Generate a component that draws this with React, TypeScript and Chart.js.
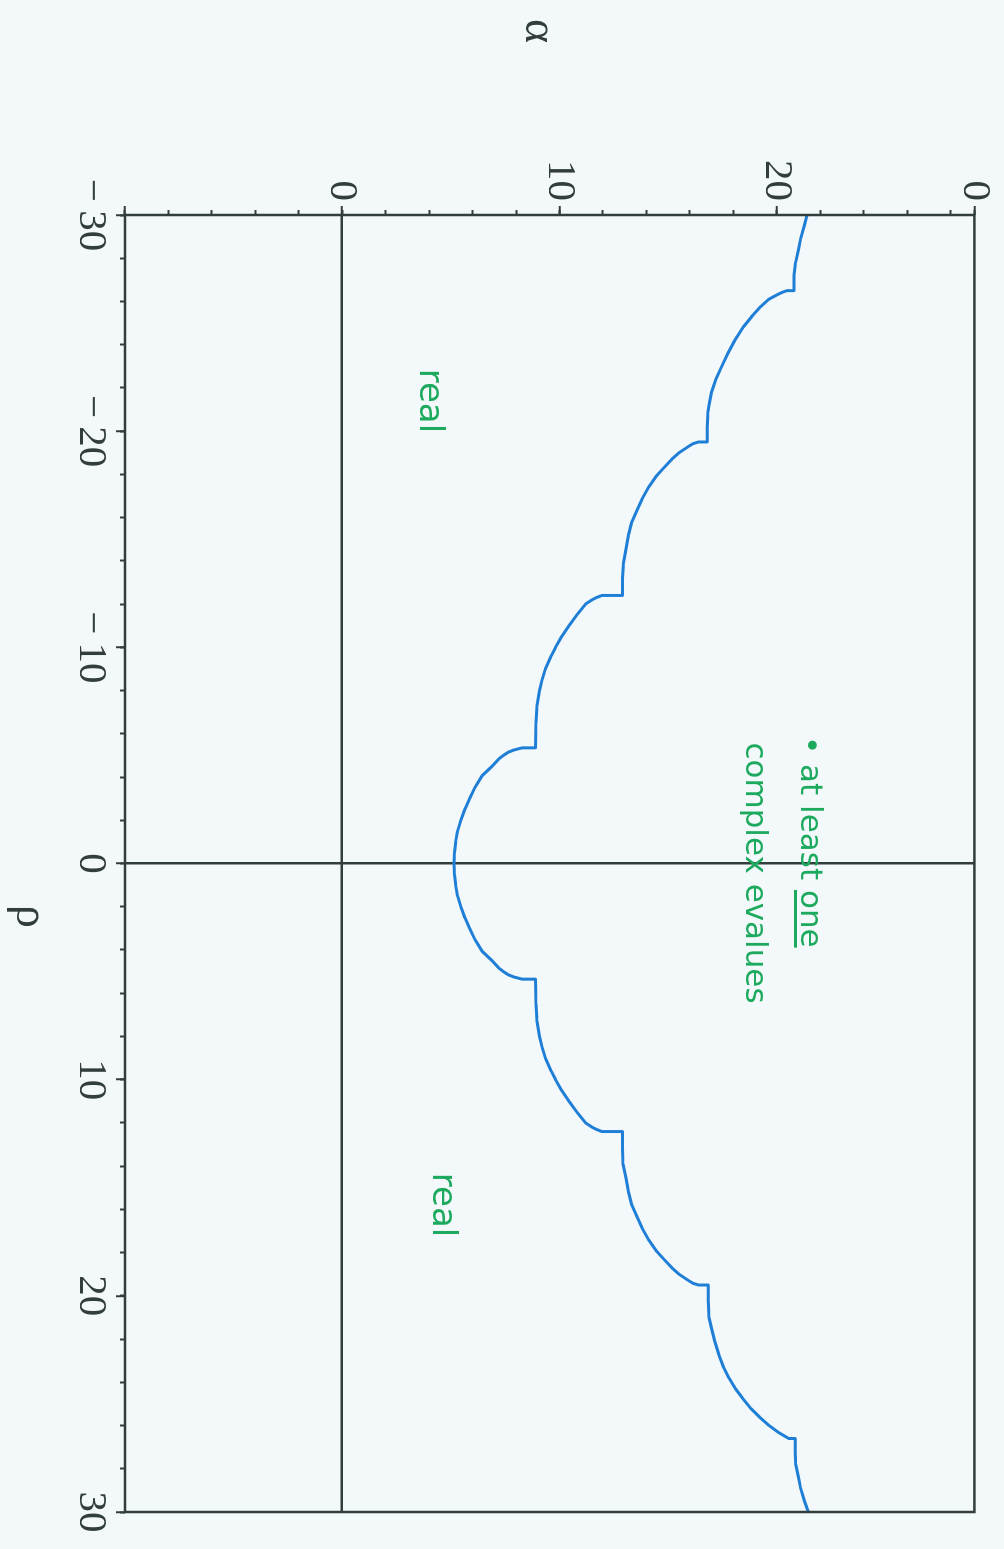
import React, { useEffect, useRef } from "react";
import { Chart, registerables } from "chart.js";

Chart.register(...registerables);

// ---- data ----
const rhoRange = [-30, 30];
const alphaRange = [-10, 29.1];
const rhoMajorTicks = [-30, -20, -10, 0, 10, 20, 30];
const rhoTickLabels = ["\u2212\u200930", "\u2212\u200920", "\u2212\u200910", "0", "10", "20", "30"];
const alphaMajorTicks = [-10, 0, 10, 20, 29.1];
const alphaTickLabels = ["", "0", "10", "20", "0"];

// boundary curve: [rho, alpha]
const boundary: [number, number][] = [
  [-30.0, 21.4], [-29.5, 21.27], [-28.9, 21.1], [-28.4, 21.0], [-27.8, 20.87], [-27.2, 20.8], [-26.5, 20.8],
  [-26.5, 20.46], [-26.4, 20.2], [-26.3, 20.0], [-26.1, 19.63], [-25.7, 19.2], [-25.3, 18.85], [-24.8, 18.45], [-24.25, 18.1],
  [-23.6, 17.75], [-23.0, 17.47], [-22.4, 17.2], [-21.8, 17.0], [-21.2, 16.88], [-20.9, 16.84], [-20.2, 16.8], [-19.5, 16.8],
  [-19.5, 16.4], [-19.42, 16.15], [-19.3, 15.95], [-19.0, 15.5], [-18.7, 15.17], [-18.3, 14.8], [-17.9, 14.44], [-17.4, 14.1],
  [-16.86, 13.8], [-16.3, 13.55], [-15.8, 13.33], [-15.2, 13.18], [-14.55, 13.06], [-13.9, 12.95], [-13.2, 12.9], [-12.4, 12.9],
  [-12.4, 11.95], [-12.3, 11.7], [-12.2, 11.5], [-12.0, 11.2], [-11.5, 10.8], [-11.0, 10.44], [-10.5, 10.1], [-10.0, 9.82],
  [-9.6, 9.62], [-9.0, 9.35], [-8.5, 9.2], [-8.0, 9.08], [-7.3, 8.97], [-6.5, 8.92], [-5.35, 8.9],
  [-5.35, 8.28], [-5.25, 7.9], [-5.15, 7.65], [-5.0, 7.42], [-4.85, 7.22], [-4.5, 6.9], [-4.06, 6.44], [-3.5, 6.1],
  [-3.0, 5.86], [-2.5, 5.64], [-2.0, 5.46], [-1.5, 5.31], [-1.0, 5.22], [-0.5, 5.17], [0, 5.15],
  [0.5, 5.17], [1.0, 5.22], [1.5, 5.31], [2.0, 5.46], [2.5, 5.64], [3.0, 5.86], [3.5, 6.1], [4.06, 6.44],
  [4.5, 6.9], [4.85, 7.22], [5.0, 7.42], [5.15, 7.65], [5.25, 7.9], [5.35, 8.28],
  [5.35, 8.9], [6.5, 8.92], [7.3, 8.97], [8.0, 9.08], [8.5, 9.2], [9.0, 9.35], [9.6, 9.62], [10.0, 9.82], [10.5, 10.1],
  [11.0, 10.44], [11.5, 10.8], [12.0, 11.2], [12.2, 11.5], [12.3, 11.7], [12.4, 11.95],
  [12.4, 12.9], [13.2, 12.9], [13.9, 12.92], [14.55, 13.06], [15.2, 13.18], [15.8, 13.33], [16.3, 13.55],
  [16.86, 13.8], [17.4, 14.1], [17.9, 14.44], [18.3, 14.8], [18.7, 15.17], [19.0, 15.5], [19.3, 15.95], [19.42, 16.15], [19.5, 16.4],
  [19.5, 16.85], [20.2, 16.85], [21.0, 16.88], [21.5, 17.0], [22.1, 17.15], [22.7, 17.33], [23.3, 17.55],
  [23.8, 17.8], [24.3, 18.1], [24.7, 18.4], [25.2, 18.8], [25.6, 19.2], [26.0, 19.65], [26.3, 20.05], [26.45, 20.3], [26.6, 20.55],
  [26.6, 20.85], [27.3, 20.85], [27.8, 20.88], [28.4, 21.0], [28.9, 21.1], [29.5, 21.28], [30.0, 21.45],
];

// handwritten notes (text, rho, alpha)
const noteTexts = ["real", "real", "\u2022 at least one", "complex evalues"];
const noteRho = [-21.4, 15.8, -5.9, -5.6];
const noteAlpha = [3.6, 4.2, 21.1, 18.6];

// ---- styles ----
const AXIS = "#323e3c";
const CURVE = "#1f7fd6";
const GREEN = "#1eaa5e";
const BG = "#f3f9fb";
const W = 1549;
const H = 1004;

const overlay = {
  id: "overlay",
  afterDraw(chart: any) {
    const { ctx, chartArea: a, scales } = chart;
    ctx.save();
    ctx.strokeStyle = AXIS;
    ctx.lineWidth = 2.5;
    ctx.strokeRect(a.left, a.top, a.right - a.left, a.bottom - a.top);

    ctx.fillStyle = AXIS;
    ctx.textAlign = "center";
    ctx.textBaseline = "middle";
    ctx.font = '46px "Liberation Serif"';
    ctx.fillText("\u03b1", a.left - 184, (a.top + a.bottom) / 2 + 12);
    ctx.fillText("\u03c1", (a.left + a.right) / 2 + 53, a.bottom + 96);

    ctx.fillStyle = GREEN;
    ctx.strokeStyle = GREEN;
    ctx.textBaseline = "alphabetic";
    noteTexts.forEach((t, i) => {
      const x = scales.x.getPixelForValue(noteRho[i]);
      const y = scales.y.getPixelForValue(noteAlpha[i]);
      if (i < 2) {
        ctx.font = '34px "DejaVu Sans"';
        ctx.textAlign = "center";
      } else {
        ctx.font = '31px "DejaVu Sans"';
        ctx.textAlign = "left";
      }
      ctx.fillText(t, x, y);
      if (i === 2) {
        const full = ctx.measureText(t).width;
        const one = ctx.measureText("one").width;
        ctx.lineWidth = 3;
        ctx.beginPath();
        ctx.moveTo(x + full - one, y + 5);
        ctx.lineTo(x + full, y + 5);
        ctx.stroke();
      }
    });
    ctx.restore();
  },
};

export default function App() {
  const ref = useRef<HTMLCanvasElement | null>(null);

  useEffect(() => {
    if (!ref.current) return;
    const tickFont = { family: '"Liberation Serif"', size: 41 };
    const chart = new Chart(ref.current, {
      type: "scatter",
      data: {
        datasets: [
          {
            data: boundary.map(([r, a]) => ({ x: r, y: a })),
            showLine: true,
            borderColor: CURVE,
            borderWidth: 3,
            borderJoinStyle: "round",
            pointRadius: 0,
            tension: 0,
            xAxisID: "x",
            yAxisID: "y",
          },
        ],
      },
      options: {
        responsive: false,
        animation: false,
        devicePixelRatio: 1,
        layout: { padding: { top: 26, right: 37, left: 0, bottom: 0 } },
        plugins: { legend: { display: false }, tooltip: { enabled: false } },
        scales: {
          x: {
            type: "linear",
            position: "bottom",
            weight: 1,
            min: rhoRange[0],
            max: rhoRange[1],
            afterBuildTicks: (s: any) => {
              s.ticks = rhoMajorTicks.map((v) => ({ value: v }));
            },
            afterFit: (s: any) => {
              s.height = 125;
            },
            border: { display: false },
            grid: {
              drawOnChartArea: true,
              color: (c: any) => (c.tick && c.tick.value === 0 ? AXIS : "rgba(0,0,0,0)"),
              lineWidth: 2.5,
              tickColor: AXIS,
              tickWidth: 2,
              tickLength: 9,
            },
            ticks: {
              autoSkip: false,
              maxRotation: 0,
              padding: 1,
              color: AXIS,
              font: tickFont,
              callback: (_v: any, i: number) => rhoTickLabels[i],
            },
          },
          x2: {
            type: "linear",
            position: "bottom",
            weight: 0,
            min: rhoRange[0],
            max: rhoRange[1],
            afterFit: (s: any) => {
              s.height = 0;
            },
            border: { display: false },
            grid: { drawOnChartArea: false, tickColor: AXIS, tickWidth: 2, tickLength: 5 },
            ticks: { display: false, stepSize: 2, autoSkip: false },
          },
          y: {
            type: "linear",
            position: "left",
            weight: 1,
            min: alphaRange[0],
            max: alphaRange[1],
            afterBuildTicks: (s: any) => {
              s.ticks = alphaMajorTicks.map((v) => ({ value: v }));
            },
            afterFit: (s: any) => {
              s.width = 215;
            },
            border: { display: false },
            grid: {
              drawOnChartArea: true,
              color: (c: any) => (c.tick && c.tick.value === 0 ? AXIS : "rgba(0,0,0,0)"),
              lineWidth: 2.5,
              tickColor: AXIS,
              tickWidth: 2,
              tickLength: 9,
            },
            ticks: {
              autoSkip: false,
              padding: 5,
              color: AXIS,
              font: tickFont,
              callback: (_v: any, i: number) => alphaTickLabels[i],
            },
          },
          y2: {
            type: "linear",
            position: "left",
            weight: 0,
            min: alphaRange[0],
            max: alphaRange[1],
            afterFit: (s: any) => {
              s.width = 0;
            },
            border: { display: false },
            grid: { drawOnChartArea: false, tickColor: AXIS, tickWidth: 2, tickLength: 5 },
            ticks: { display: false, stepSize: 2, autoSkip: false },
          },
        },
      },
      plugins: [overlay],
    } as any);
    return () => chart.destroy();
  }, []);

  return (
    <div
      style={{
        position: "fixed",
        left: 0,
        top: 0,
        width: H,
        height: W,
        background: BG,
        overflow: "hidden",
      }}
    >
      <div
        style={{
          position: "absolute",
          left: 0,
          top: 0,
          width: W,
          height: H,
          transformOrigin: "0 0",
          transform: `translate(${H}px, 0px) rotate(90deg)`,
        }}
      >
        <canvas ref={ref} width={W} height={H} style={{ width: W, height: H, display: "block" }} />
      </div>
    </div>
  );
}
